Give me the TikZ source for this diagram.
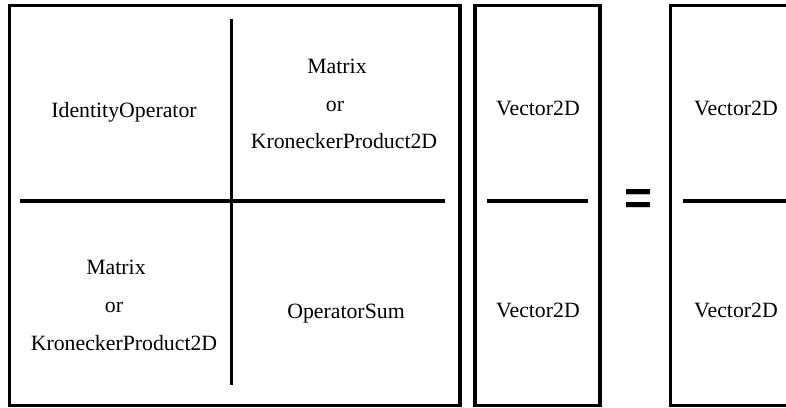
\documentclass[tikz,border=0pt]{standalone}
\usepackage{fontspec}
\setmainfont{Liberation Serif}
\newfontfamily\eqfont{Liberation Sans}
\begin{document}
\begin{tikzpicture}[x=1pt,y=-1pt,
  frame/.style={draw=black,line width=3.2pt},
  rule/.style={draw=black,line width=3.2pt},
  lbl/.style={anchor=base,inner sep=0pt,font=\fontsize{21.8}{26}\selectfont}]
\useasboundingbox (0,0) rectangle (786,407);
\clip (0,0) rectangle (786,407);
% operator block: two-by-two grid
\draw[frame] (9.5,5.5) rectangle (460,405.5);
\coordinate (vt) at (231.7,18.5);
\coordinate (vb) at (231.7,385);
\coordinate (hl) at (20,201);
\coordinate (hr) at (445,201);
\draw[rule] (vt) -- (vb);
\draw[rule] (hl) -- (hr);
\node[lbl] (id) at (124,117) {IdentityOperator};
\node[lbl] (m1) at (337,73) {Matrix};
\node[lbl] (o1) at (335,111) {or};
\node[lbl] (k1) at (344,148) {KroneckerProduct2D};
\node[lbl] (m2) at (116,274) {Matrix};
\node[lbl] (o2) at (114,312) {or};
\node[lbl] (k2) at (124,350) {KroneckerProduct2D};
\node[lbl] (sum) at (346,318) {OperatorSum};
% input vector
\draw[frame] (475,5.5) rectangle (600,405.5);
\coordinate (al) at (487,201);
\coordinate (ar) at (588,201);
\draw[rule] (al) -- (ar);
\node[lbl] (x1) at (538,115) {Vector2D};
\node[lbl] (x2) at (538,317) {Vector2D};
% equals sign
\node[anchor=base,inner sep=0pt,font=\eqfont\bfseries\fontsize{48}{56}\selectfont] (eq) at (638.5,214.5) {=};
% result vector
\draw[frame] (670.3,5.5) rectangle (801,405.5);
\coordinate (bl) at (683,201);
\coordinate (br) at (790,201);
\draw[rule] (bl) -- (br);
\node[lbl] (y1) at (736,115) {Vector2D};
\node[lbl] (y2) at (736,317) {Vector2D};
\end{tikzpicture}
\end{document}
